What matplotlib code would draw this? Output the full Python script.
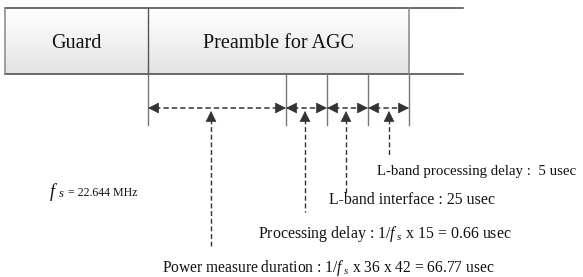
import matplotlib
matplotlib.use("Agg")
import matplotlib.pyplot as plt
import numpy as np

plt.rcParams['font.family'] = ['Liberation Serif', 'DejaVu Serif']
plt.rcParams['mathtext.fontset'] = 'custom'
plt.rcParams['mathtext.rm'] = 'Liberation Serif'
plt.rcParams['mathtext.it'] = 'Liberation Serif:italic'

# ---- diagram content ----
box_labels = ["Guard", "Preamble for AGC"]
box_edges = [5, 148, 409]            # field boundaries
open_end = 463                       # frame lines continue to here
segment_edges = [148, 286, 327, 368, 409]
pointer_x = [211, 305, 346, 389]     # up-arrow positions
pointer_end = [248, 212, 193, 157]   # dashed shaft ends
labels = [
    "Power measure duration : 1/$f_{\\ s}$ x 36 x 42 = 66.77 usec",
    "Processing delay : 1/$f_{\\ s}$ x 15 = 0.66 usec",
    "L-band interface : 25 usec",
    "L-band processing delay :  5 usec",
]
label_pos = [(162, 268), (258, 234), (329, 200), (377, 172)]
label_size = [11.2, 11.4, 11.4, 10.7]
fs_text = "= 22.644 MHz"

W, H = 583, 277
fig = plt.figure(figsize=(W / 100, H / 100), dpi=100)
ax = fig.add_axes([0, 0, 1, 1])
ax.set_xlim(0, W)
ax.set_ylim(H, 0)
ax.axis('off')

top, bot = 8, 74
# gradient fill of the frame
grad = np.linspace(1.0, 0.89, 64).reshape(-1, 1)
ax.imshow(grad, cmap='gray', vmin=0, vmax=1, aspect='auto',
          extent=(box_edges[0], box_edges[-1], bot, top), zorder=0)

edge = '#444444'
ax.plot([box_edges[0], open_end], [top, top], color=edge, lw=1.1)
ax.plot([box_edges[0], open_end], [bot, bot], color=edge, lw=1.1)
ax.plot([box_edges[0], box_edges[0]], [top, bot], color='#888888', lw=1.1)
ax.plot([box_edges[1], box_edges[1]], [top, bot], color='#555555', lw=1.0)
ax.plot([box_edges[2], box_edges[2]], [top, bot], color='#888888', lw=1.1)

centers = [(box_edges[i] + box_edges[i + 1]) / 2 for i in range(2)]
for c, t in zip(centers, box_labels):
    ax.text(c, 43, t, ha='center', va='center', fontsize=14.5, color='#111111')

# vertical markers below the frame
for x in segment_edges:
    ax.plot([x, x], [bot, 125], color='#777777', lw=1.0)

ay = 108
dash = (0, (3.5, 2))
acol = '#333333'
for x0, x1 in zip(segment_edges[:-1], segment_edges[1:]):
    ax.plot([x0 + 7, x1 - 7], [ay, ay], color=acol, lw=1.1, linestyle=dash)
    for tip, src in ((x0, x0 + 8), (x1, x1 - 8)):
        ax.annotate('', xy=(tip, ay), xytext=(src, ay),
                    arrowprops=dict(arrowstyle='-|>,head_length=0.7,head_width=0.35',
                                    color=acol, lw=0.5, shrinkA=0, shrinkB=0,
                                    mutation_scale=10))

for x, yend in zip(pointer_x, pointer_end):
    ax.plot([x, x], [119, yend], color=acol, lw=1.0, linestyle=dash)
    ax.annotate('', xy=(x, 111), xytext=(x, 120),
                arrowprops=dict(arrowstyle='-|>,head_length=0.7,head_width=0.35',
                                color=acol, lw=0.5, shrinkA=0, shrinkB=0,
                                mutation_scale=10))

for (x, y), t, s in zip(label_pos, labels, label_size):
    ax.text(x, y, t, ha='left', va='center', fontsize=s, color='#111111')

ax.text(49, 192, "$f$", ha='left', va='center', fontsize=13, color='#111111')
ax.text(58, 194, "$s$", ha='left', va='center', fontsize=9, color='#111111')
ax.text(68, 193, fs_text, ha='left', va='center', fontsize=8.6, color='#111111')

fig.savefig('out.png', dpi=100)
